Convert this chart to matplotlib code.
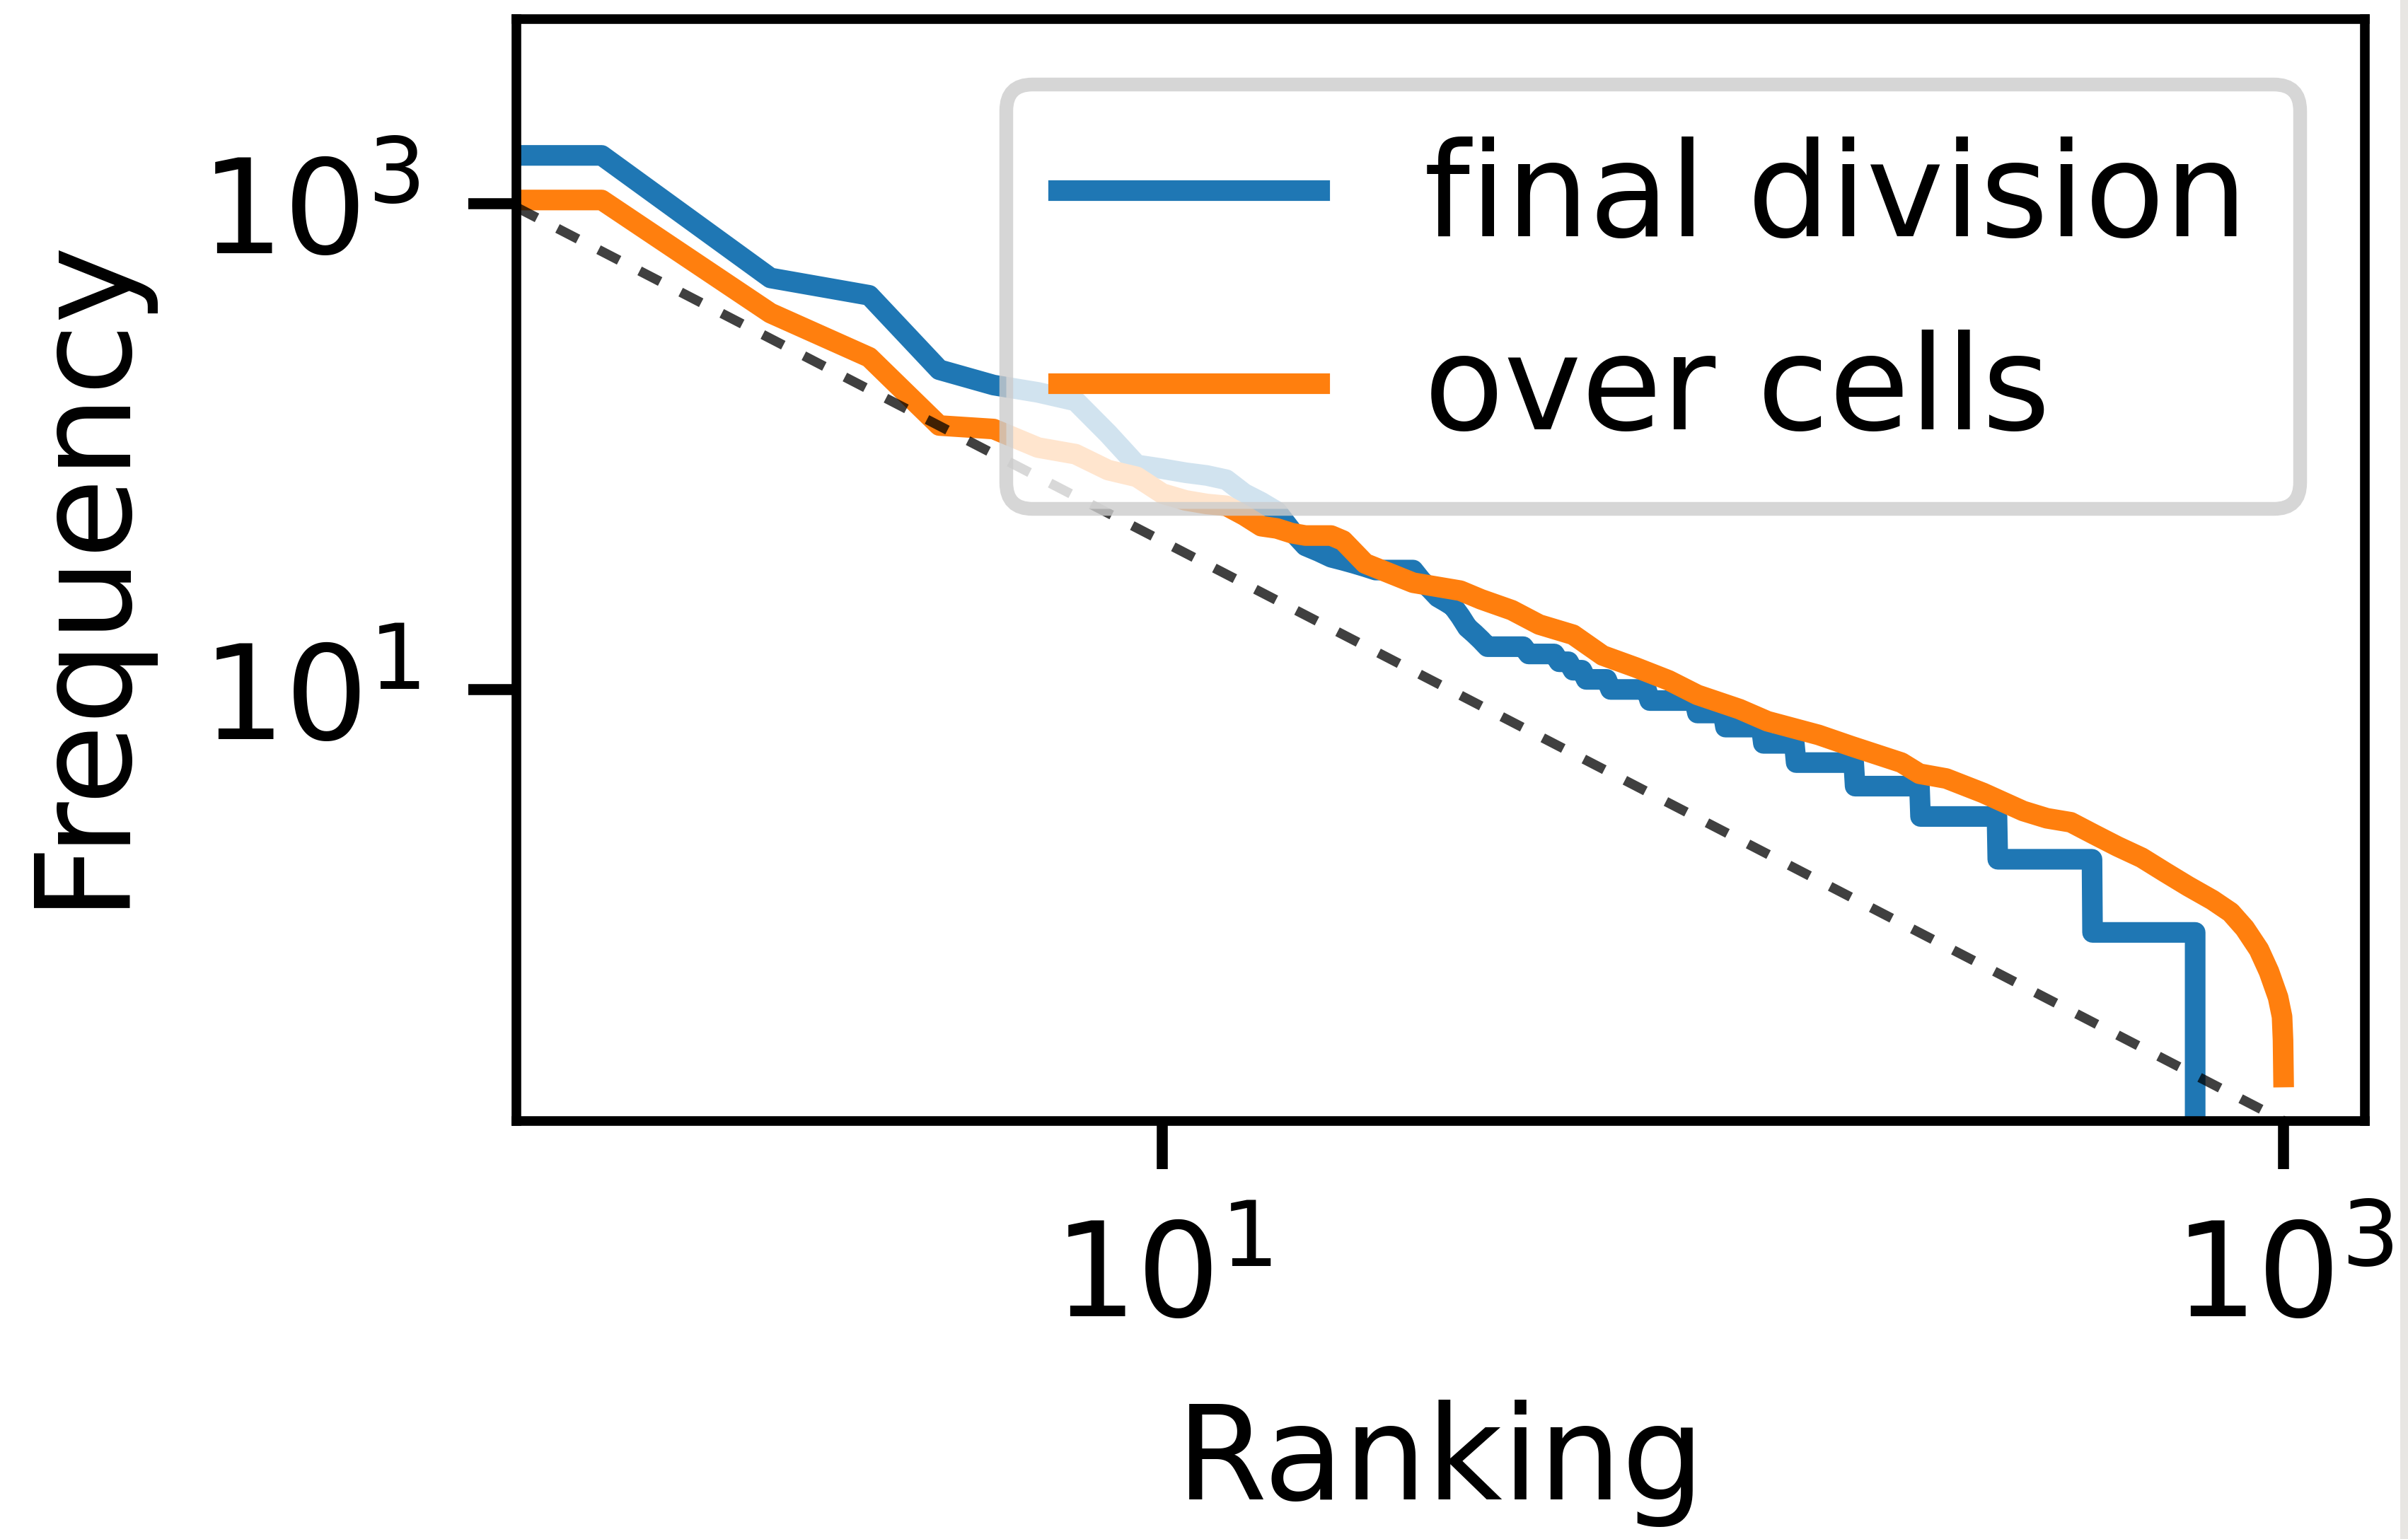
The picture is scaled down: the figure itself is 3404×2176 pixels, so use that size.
import numpy as np
import matplotlib
matplotlib.use("Agg")
import matplotlib.pyplot as plt
from matplotlib.patches import Rectangle

# ---- data ----
blue_rank = [0, 1, 2, 3, 4, 5, 6, 7, 8, 9, 10, 11, 12, 13, 14, 15, 16, 17, 18, 19, 20,
             21, 22, 23, 24, 28, 29, 30, 31, 32, 33, 34, 35, 36, 37,
             38, 44, 45, 50, 51, 53, 54, 56, 57, 62, 63, 73, 74, 89, 90, 100,
             101, 117, 118, 134, 135, 171, 172, 224, 225, 308, 309, 455, 456, 695, 696, 999]
blue_freq = [3580, 1578, 494, 419, 207, 179, 167, 154, 113, 84, 81, 78, 76, 73, 64, 59, 54, 45, 39, 37, 35,
             34, 33, 32, 31, 31, 28, 26, 24, 23, 22, 20, 18, 17, 16,
             15, 15, 14, 14, 13, 13, 12, 12, 11, 11, 10, 10, 9, 9, 8, 8,
             7, 7, 6, 6, 5, 5, 4, 4, 3, 3, 2, 2, 1, 1, 0, 0]

orange_rank = [0, 1, 2, 3, 4, 5, 6, 7, 8, 9, 10, 11, 12, 13, 14, 15, 16, 17, 18, 19, 20, 21,
               23, 28, 34, 37, 42, 47, 54, 61, 70, 80, 90, 107, 120, 148, 169, 208, 224,
               250, 291, 343, 378, 417, 459, 505, 558, 614, 675, 746, 804, 852, 903, 941,
               977, 993, 997, 999]
orange_freq = [2000, 1034, 354, 233, 122, 118, 99, 93, 80, 75, 64, 60, 58, 57, 52, 47, 46, 44, 43, 43, 43, 41,
               33, 27.5, 25.5, 23.5, 21.2, 18.5, 16.8, 13.8, 12.3, 10.9, 9.5, 8.3, 7.4, 6.5, 5.85, 5.0, 4.5,
               4.3, 3.75, 3.16, 2.95, 2.84, 2.53, 2.26, 2.03, 1.77, 1.55, 1.36, 1.21, 1.04, 0.85, 0.69,
               0.54, 0.45, 0.36, 0.254]

zipf_rank = [1, 1000]
zipf_freq = [636, 0.1675]

series_labels = ["final division", "over cells"]
x_label = "Ranking"
y_label = "Frequency"
tick_values = [10, 1000]

# ---- figure ----
DPI = 1400
plt.rcParams["font.size"] = 9.5
fig = plt.figure(figsize=(3404.3 / DPI, 2176.3 / DPI), dpi=DPI)
fig.patches.append(Rectangle((3393 / 3404, 0), 11 / 3404, 1, transform=fig.transFigure,
                             facecolor="#e8e6e3", edgecolor="none", zorder=-10))
ax = fig.add_axes([730 / 3404, 1 - 1585 / 2176, (3343 - 730) / 3404, (1585 - 27) / 2176])

ax.plot(blue_rank, blue_freq, color="#1f77b4", lw=1.5, label=series_labels[0])
ax.plot(orange_rank, orange_freq, color="#ff7f0e", lw=1.5, label=series_labels[1])
ax.set_xscale("log")
ax.set_yscale("log")
ax.axline((zipf_rank[0], zipf_freq[0]), (zipf_rank[1], zipf_freq[1]),
          color="k", alpha=0.75, lw=0.7, linestyle=(0, (2.4, 2.4)))

ax.set_xlim(10 ** -0.152, 10 ** 3.145)
ax.set_ylim(10 ** -0.776, 10 ** 3.760)
ax.set_xticks(tick_values)
ax.set_yticks(tick_values)
ax.minorticks_off()
for sp in ax.spines.values():
    sp.set_linewidth(0.7)

ax.set_xlabel(x_label)
ax.set_ylabel(y_label)
ax.legend(loc="upper right")

fig.savefig("out.png", dpi=DPI)
